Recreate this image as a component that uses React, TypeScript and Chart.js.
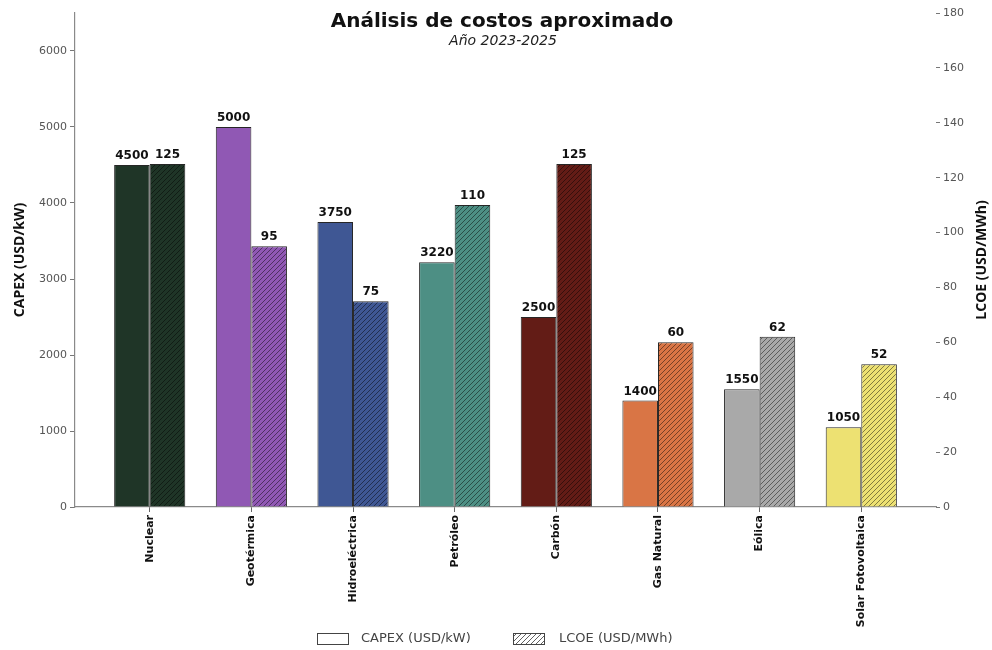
import React, { useEffect, useRef } from 'react';
import { Chart, registerables } from 'chart.js';

Chart.register(...registerables);

const categories = ['Nuclear', 'Geotérmica', 'Hidroeléctrica', 'Petróleo', 'Carbón', 'Gas Natural', 'Eólica', 'Solar Fotovoltaica'];
const capexValues = [4500, 5000, 3750, 3220, 2500, 1400, 1550, 1050];
const lcoeValues = [125, 95, 75, 110, 125, 60, 62, 52];
const barColors = ['#1f3527', '#9058b4', '#3f5794', '#4d8f84', '#631c16', '#d97545', '#a9a9a9', '#ede172'];
const capexTicks = [0, 1000, 2000, 3000, 4000, 5000, 6000];
const lcoeTicks = [0, 20, 40, 60, 80, 100, 120, 140, 160, 180];

const TITLE = 'Análisis de costos aproximado';
const SUBTITLE = 'Año 2023-2025';
const CAPEX_LABEL = 'CAPEX (USD/kW)';
const LCOE_LABEL = 'LCOE (USD/MWh)';

function makeHatch(ctx: CanvasRenderingContext2D, color: string, lineColor: string, size: number) {
  const c = document.createElement('canvas');
  c.width = size;
  c.height = size;
  const g = c.getContext('2d')!;
  g.fillStyle = color;
  g.fillRect(0, 0, size, size);
  g.strokeStyle = lineColor;
  g.lineWidth = 0.9;
  g.beginPath();
  g.moveTo(0, size);
  g.lineTo(size, 0);
  g.moveTo(-size / 2, size / 2);
  g.lineTo(size / 2, -size / 2);
  g.moveTo(size / 2, size * 1.5);
  g.lineTo(size * 1.5, size / 2);
  g.stroke();
  return ctx.createPattern(c, 'repeat')!;
}

export default function App() {
  const ref = useRef<HTMLCanvasElement | null>(null);

  useEffect(() => {
    const canvas = ref.current!;
    const ctx = canvas.getContext('2d')!;
    const hatched = barColors.map((c) => makeHatch(ctx, c, 'rgba(0,0,0,0.5)', 5));
    const legendHatch = makeHatch(ctx, '#ffffff', 'rgba(60,60,60,0.9)', 5);

    const labelsPlugin = {
      id: 'decor',
      afterDatasetsDraw(chart: any) {
        const c = chart.ctx;
        c.save();
        c.font = 'bold 12px "DejaVu Sans"';
        c.fillStyle = '#111';
        c.textAlign = 'center';
        c.textBaseline = 'alphabetic';
        chart.data.datasets.forEach((ds: any, di: number) => {
          const meta = chart.getDatasetMeta(di);
          meta.data.forEach((el: any, i: number) => {
            c.fillText(String(ds.data[i].y), el.x, el.y - 6);
          });
        });
        c.restore();
      },
      afterDraw(chart: any) {
        const c = chart.ctx;
        const area = chart.chartArea;
        c.save();
        c.fillStyle = '#111';
        c.textAlign = 'center';
        c.textBaseline = 'alphabetic';
        c.font = 'bold 20px "DejaVu Sans"';
        c.fillText(TITLE, 502, 27);
        c.font = 'oblique 14px "DejaVu Sans"';
        c.fillStyle = '#222';
        c.fillText(SUBTITLE, 503, 45);
        const midY = (area.top + area.bottom) / 2;
        c.font = 'bold 14px "Open Sans"';
        c.fillStyle = '#111';
        c.textBaseline = 'middle';
        c.save();
        c.translate(20, midY);
        c.rotate(-Math.PI / 2);
        c.fillText(CAPEX_LABEL, 0, 0);
        c.restore();
        c.save();
        c.translate(982, midY);
        c.rotate(-Math.PI / 2);
        c.fillText(LCOE_LABEL, 0, 0);
        c.restore();
        c.lineWidth = 1;
        c.strokeStyle = '#444';
        c.fillStyle = '#ffffff';
        c.fillRect(317.5, 633.5, 31, 11);
        c.strokeRect(317.5, 633.5, 31, 11);
        c.fillStyle = legendHatch;
        c.fillRect(513.5, 633.5, 31, 11);
        c.strokeRect(513.5, 633.5, 31, 11);
        c.fillStyle = '#444';
        c.textAlign = 'left';
        c.font = '13px "DejaVu Sans"';
        c.fillText(CAPEX_LABEL, 361, 639);
        c.fillText(LCOE_LABEL, 559, 639);
        c.restore();
      },
    };

    const tickFont = { family: 'DejaVu Sans', size: 11 };

    const chart = new Chart(canvas, {
      type: 'bar',
      data: {
        datasets: [
          {
            label: CAPEX_LABEL,
            data: capexValues.map((v, i) => ({ x: i, y: v })),
            backgroundColor: barColors,
            borderColor: 'rgba(0,0,0,0.85)',
            borderWidth: 1,
            xAxisID: 'x',
            yAxisID: 'y',
          },
          {
            label: LCOE_LABEL,
            data: lcoeValues.map((v, i) => ({ x: i, y: v })),
            backgroundColor: hatched,
            borderColor: 'rgba(0,0,0,0.85)',
            borderWidth: 1,
            xAxisID: 'x',
            yAxisID: 'y1',
          },
        ],
      },
      options: {
        responsive: false,
        animation: false,
        devicePixelRatio: 1,
        categoryPercentage: 0.7,
        barPercentage: 1,
        layout: { padding: { top: 13, left: 0, right: 0, bottom: 0 } },
        plugins: {
          legend: { display: false },
          title: { display: false },
          tooltip: { enabled: false },
        },
        scales: {
          x: {
            type: 'linear',
            min: -0.735,
            max: 7.735,
            offset: false,
            afterBuildTicks: (s: any) => {
              s.ticks = categories.map((_, i) => ({ value: i }));
            },
            afterFit: (s: any) => {
              s.height = 143;
            },
            ticks: {
              includeBounds: false,
              autoSkip: false,
              minRotation: 90,
              maxRotation: 90,
              padding: 3,
              color: '#111',
              font: { family: 'DejaVu Sans', size: 11, weight: 'bold' },
              callback: (v: any) => categories[v as number] ?? '',
            },
            grid: { offset: false, drawOnChartArea: false, drawTicks: true, tickLength: 5, tickColor: '#666' },
            border: { color: '#8a8a8a', width: 1.2 },
          },
          y: {
            type: 'linear',
            position: 'left',
            min: 0,
            max: 6500,
            afterBuildTicks: (s: any) => {
              s.ticks = capexTicks.map((v) => ({ value: v }));
            },
            afterFit: (s: any) => {
              s.width = 75;
            },
            ticks: { color: '#555', font: tickFont, padding: 3, callback: (v: any) => String(v) },
            grid: { drawOnChartArea: false, drawTicks: true, tickLength: 5, tickColor: '#777' },
            border: { color: '#8a8a8a', width: 1.2 },
          },
          y1: {
            type: 'linear',
            position: 'right',
            min: 0,
            max: 180,
            afterBuildTicks: (s: any) => {
              s.ticks = lcoeTicks.map((v) => ({ value: v }));
            },
            afterFit: (s: any) => {
              s.width = 56;
            },
            ticks: { color: '#555', font: tickFont, padding: 3, callback: (v: any) => String(v) },
            grid: { drawOnChartArea: false, drawTicks: true, tickLength: 4, tickColor: '#777' },
            border: { display: false },
          },
        },
      } as any,
      plugins: [labelsPlugin],
    });

    return () => chart.destroy();
  }, []);

  return (
    <div style={{ position: 'fixed', left: 0, top: 0, width: 992, height: 650, background: '#fff' }}>
      <canvas ref={ref} width={992} height={650} style={{ display: 'block', width: 992, height: 650 }} />
    </div>
  );
}
